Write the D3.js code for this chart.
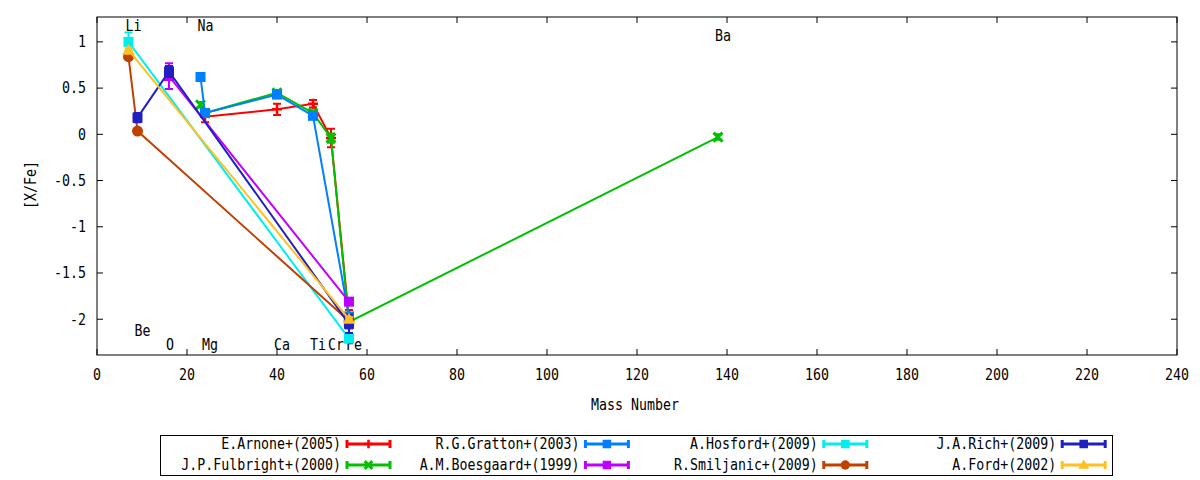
<!DOCTYPE html>
<html>
<head>
<meta charset="utf-8">
<script src="https://cdn.jsdelivr.net/npm/d3@7"></script>
<style>
  html, body { margin: 0; padding: 0; background: #fff; }
  text { font-family: "DejaVu Sans Mono", monospace; font-size: 15px; fill: #000; }
</style>
</head>
<body>
<svg id="chart" width="1200" height="480"></svg>
<script>
// ---------- data ----------
const elementNames = ["Li", "Be", "O", "Na", "Mg", "Ca", "Ti", "Cr", "Fe", "Ba"];
const massNumbers  = [7, 9, 16, 23, 24, 40, 48, 52, 56, 138];
const labelValues  = [1.17, -2.12, -2.28, 1.17, -2.28, -2.28, -2.28, -2.28, -2.28, 1.065];

const xTicks = [0, 20, 40, 60, 80, 100, 120, 140, 160, 180, 200, 220, 240];
const yTicks = [-2, -1.5, -1, -0.5, 0, 0.5, 1];

const seriesNames = [
  "E.Arnone+(2005)", "J.P.Fulbright+(2000)", "R.G.Gratton+(2003)", "A.M.Boesgaard+(1999)",
  "A.Hosford+(2009)", "R.Smiljanic+(2009)", "J.A.Rich+(2009)", "A.Ford+(2002)"
];

const arnoneElements = ["Mg", "Ca", "Ti", "Cr", "Fe"];
const arnoneValues   = [0.19, 0.27, 0.33, -0.04, -2.0];
const arnoneErrors   = [0.06, 0.06, 0.04, 0.10, 0.10];

const fulbrightElements = ["Na", "Mg", "Ca", "Ti", "Cr", "Fe", "Ba"];
const fulbrightValues   = [0.32, 0.23, 0.45, 0.23, -0.04, -2.03, -0.03];
const fulbrightErrors   = [0.03, 0.03, 0.03, 0.03, 0.05, 0.03, 0.03];

const grattonElements = ["Na", "Mg", "Ca", "Ti", "Fe"];
const grattonValues   = [0.62, 0.23, 0.43, 0.20, -1.97];
const grattonErrors   = [0.04, 0.03, 0.03, 0.03, 0.03];

const boesgaardElements = ["O", "Fe"];
const boesgaardValues   = [0.63, -1.81];
const boesgaardErrors   = [0.14, 0.03];

const hosfordElements = ["Li", "Fe"];
const hosfordValues   = [1.0, -2.21];
const hosfordErrors   = [0.10, 0.04];

const smiljanicElements = ["Li", "Be", "Fe"];
const smiljanicValues   = [0.84, 0.035, -2.02];
const smiljanicErrors   = [0.02, 0.02, 0.02];

const richElements = ["Be", "O", "Fe"];
const richValues   = [0.18, 0.68, -2.05];
const richErrors   = [0.05, 0.06, 0.10];

const fordElements = ["Li", "Fe"];
const fordValues   = [0.91, -2.0];
const fordErrors   = [0.02, 0.02];

// ---------- styles ----------
const seriesColors = ["#ff0000", "#00c000", "#0080ff", "#c000ff", "#00eeee", "#c04000", "#2020c0", "#ffc020"];
const seriesMarkers = ["plus", "cross", "square", "square", "square", "circle", "square", "triangle"];

const seriesElements = [arnoneElements, fulbrightElements, grattonElements, boesgaardElements,
                        hosfordElements, smiljanicElements, richElements, fordElements];
const seriesValues = [arnoneValues, fulbrightValues, grattonValues, boesgaardValues,
                      hosfordValues, smiljanicValues, richValues, fordValues];
const seriesErrors = [arnoneErrors, fulbrightErrors, grattonErrors, boesgaardErrors,
                      hosfordErrors, smiljanicErrors, richErrors, fordErrors];

const massOf = {};
elementNames.forEach((e, i) => massOf[e] = massNumbers[i]);

const series = seriesNames.map((name, i) => ({
  name, color: seriesColors[i], marker: seriesMarkers[i],
  points: seriesElements[i].map((el, j) => ({
    mass: massOf[el], value: seriesValues[i][j], err: seriesErrors[i][j]
  }))
}));

// ---------- layout ----------
const svg = d3.select("#chart");
const pLeft = 97, pRight = 1177, pTop = 17, pBottom = 355;

const x = d3.scaleLinear().domain([0, 240]).range([pLeft, pRight]);
const y = d3.scaleLinear().domain([-2.387, 1.269]).range([pBottom, pTop]);

// condensed text helper (narrow, tall glyphs like the reference)
function addText(parent, tx, ty, str, anchor, rot) {
  const g = parent.append("g")
    .attr("transform", `translate(${tx},${ty})` + (rot ? ` rotate(${rot})` : "") + " scale(0.885,1)");
  g.append("text").attr("x", 0).attr("y", 0).attr("text-anchor", anchor || "start")
    .attr("dominant-baseline", "central").text(str);
  return g;
}

// ticks (inward, mirrored)
const tickLen = 6;
const axisG = svg.append("g");
xTicks.forEach(t => {
  axisG.append("line").attr("x1", x(t)).attr("x2", x(t)).attr("y1", pBottom).attr("y2", pBottom - tickLen)
    .attr("stroke", "#000");
  axisG.append("line").attr("x1", x(t)).attr("x2", x(t)).attr("y1", pTop).attr("y2", pTop + tickLen)
    .attr("stroke", "#000");
  addText(axisG, x(t), 375, String(t), "middle");
});
yTicks.forEach(t => {
  axisG.append("line").attr("x1", pLeft).attr("x2", pLeft + tickLen).attr("y1", y(t)).attr("y2", y(t))
    .attr("stroke", "#000");
  axisG.append("line").attr("x1", pRight).attr("x2", pRight - tickLen).attr("y1", y(t)).attr("y2", y(t))
    .attr("stroke", "#000");
  addText(axisG, 86, y(t), String(t), "end");
});

// axis titles
addText(svg, 635, 405, "Mass Number", "middle");
addText(svg, 31, 185, "[X/Fe]", "middle", -90);

// element labels
const labG = svg.append("g");
elementNames.forEach((name, i) => addText(labG, x(massNumbers[i]) - 3, y(labelValues[i]), name, "start"));

// markers
function drawMarker(g, type, cx, cy, color, sz) {
  const k = sz || 1;
  if (type === "plus") {
    g.append("path").attr("d", `M${cx - 5 * k},${cy}H${cx + 5 * k}M${cx},${cy - 5 * k}V${cy + 5 * k}`)
      .attr("stroke", color).attr("stroke-width", 2.5).attr("fill", "none");
  } else if (type === "cross") {
    g.append("path").attr("d", `M${cx - 4.5 * k},${cy - 4.5 * k}L${cx + 4.5 * k},${cy + 4.5 * k}M${cx - 4.5 * k},${cy + 4.5 * k}L${cx + 4.5 * k},${cy - 4.5 * k}`)
      .attr("stroke", color).attr("stroke-width", 3).attr("fill", "none");
  } else if (type === "square") {
    g.append("rect").attr("x", cx - 5 * k).attr("y", cy - 5 * k).attr("width", 10 * k).attr("height", 10 * k).attr("fill", color);
  } else if (type === "circle") {
    g.append("circle").attr("cx", cx).attr("cy", cy).attr("r", 5.5 * k).attr("fill", color);
  } else if (type === "triangle") {
    g.append("path").attr("d", `M${cx},${cy - 6.5 * k}L${cx + 6.5 * k},${cy + 4.5 * k}L${cx - 6.5 * k},${cy + 4.5 * k}Z`).attr("fill", color);
  }
}

// series
const line = d3.line().x(d => x(d.mass)).y(d => y(d.value));
const plotG = svg.append("g");
series.forEach(s => {
  const g = plotG.append("g");
  g.append("path").attr("d", line(s.points)).attr("fill", "none")
    .attr("stroke", s.color).attr("stroke-width", 2);
  s.points.forEach(p => {
    const cx = x(p.mass), y1 = y(p.value + p.err), y2 = y(p.value - p.err);
    g.append("path").attr("d", `M${cx},${y1}V${y2}M${cx - 4},${y1}H${cx + 4}M${cx - 4},${y2}H${cx + 4}`)
      .attr("stroke", s.color).attr("stroke-width", 2).attr("fill", "none");
    drawMarker(g, s.marker, cx, y(p.value), s.color);
  });
});

// border
svg.append("rect").attr("x", pLeft).attr("y", pTop).attr("width", pRight - pLeft).attr("height", pBottom - pTop)
  .attr("fill", "none").attr("stroke", "#000").attr("stroke-width", 1);

// legend
const legX = 160, legY = 435, legW = 952, legH = 40;
svg.append("rect").attr("x", legX + 0.5).attr("y", legY + 0.5).attr("width", legW).attr("height", legH)
  .attr("fill", "none").attr("stroke", "#000");
const colStart = 347, colStep = 238.4, rowY = [444, 465], sampleLen = 43;
series.forEach((s, i) => {
  const col = Math.floor(i / 2), row = i % 2;
  const sx = colStart + col * colStep, sy = rowY[row];
  const g = svg.append("g");
  addText(g, sx - 6, sy, s.name, "end");
  g.append("path").attr("d", `M${sx},${sy}H${sx + sampleLen}M${sx},${sy - 4}V${sy + 4}M${sx + sampleLen},${sy - 4}V${sy + 4}`)
    .attr("stroke", s.color).attr("stroke-width", 3).attr("fill", "none");
  drawMarker(g, s.marker, sx + sampleLen / 2, sy, s.color, 0.85);
});
</script>
</body>
</html>
